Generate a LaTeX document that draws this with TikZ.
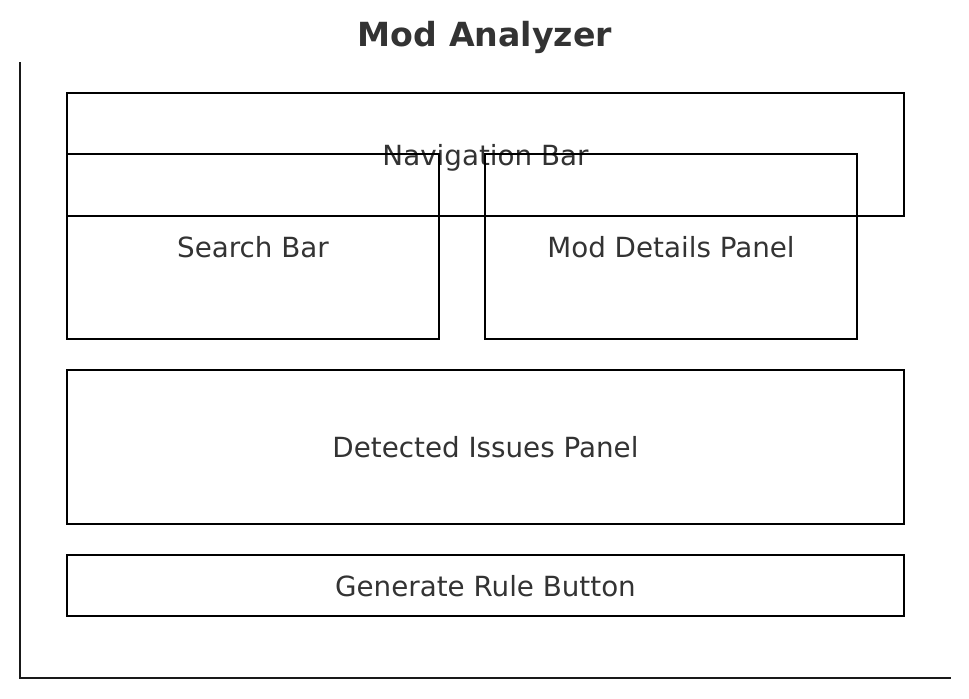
\documentclass[tikz,border=0pt]{standalone}
\usepackage{fontspec}
\setmainfont{DejaVu Sans}
\usepackage{xcolor}
\definecolor{labelgray}{HTML}{333333}
\usetikzlibrary{positioning}

\begin{document}
\begin{tikzpicture}[
    x=0.02cm, y=-0.02cm,
    panel/.style={rectangle, draw=black, line width=1.5pt, inner sep=0pt, minimum width=#1, text depth=0pt, font=\fontsize{15.8}{18}\selectfont, text=labelgray},
    axisline/.style={draw=black!90, line width=1.5pt}
]
\useasboundingbox (0,0) rectangle (969,698);

% Title
\node[font=\fontsize{18.9}{22}\selectfont\bfseries, text=labelgray] (title) at (485,37) {Mod Analyzer};

% Panels
\node[panel=16.74cm, minimum height=2.46cm] (navbar) at (485.5,154.5) {Navigation Bar};
\node[panel=7.44cm, minimum height=3.70cm] (search) at (253,246.5) {Search Bar};
\node[panel=7.44cm, minimum height=3.70cm] (details) at (671,246.5) {Mod Details Panel};
\node[panel=16.74cm, minimum height=3.08cm] (issues) at (485.5,447) {Detected Issues Panel};
\node[panel=16.74cm, minimum height=1.22cm] (button) at (485.5,585.5) {Generate Rule Button};

% Axes
\coordinate (top) at (20,62);
\coordinate (origin) at (20,678);
\coordinate (right) at (951,678);
\draw[axisline] (top) -- (origin) -- (right);
\end{tikzpicture}
\end{document}
